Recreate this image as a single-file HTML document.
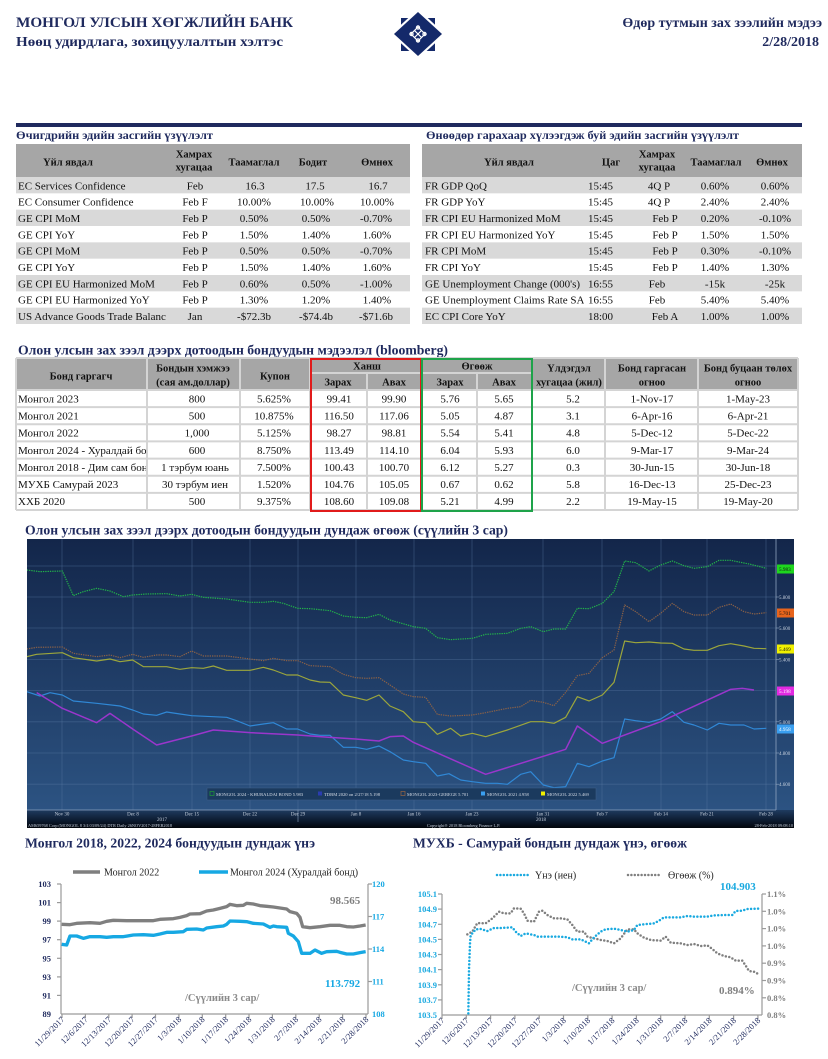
<!DOCTYPE html>
<html><head><meta charset="utf-8"><style>
html,body{margin:0;padding:0;background:#fff;width:828px;height:1059px;overflow:hidden}
svg{display:block}
text{font-family:"Liberation Serif","DejaVu Serif",serif}
.nv{fill:#1f2a5e;font-weight:bold}
.td{font-size:11px;fill:#111}
.th{font-size:10.5px;font-weight:bold;fill:#111}
.bb{font-family:"Liberation Sans","DejaVu Sans",sans-serif}
</style></head><body>
<svg width="828" height="1059" viewBox="0 0 828 1059" xmlns="http://www.w3.org/2000/svg">
<defs>
<linearGradient id="bg" x1="0" y1="0" x2="0" y2="1"><stop offset="0" stop-color="#13264a"/><stop offset="1" stop-color="#2c5382"/></linearGradient>
<linearGradient id="ax" x1="0" y1="0" x2="0" y2="1"><stop offset="0" stop-color="#1f3b60"/><stop offset="0.6" stop-color="#0c1a2e"/><stop offset="1" stop-color="#02050b"/></linearGradient>
<clipPath id="c1"><rect x="16" y="170" width="150" height="160"/></clipPath>
<clipPath id="c2"><rect x="422" y="170" width="162" height="160"/></clipPath>
<clipPath id="c3"><rect x="16" y="390" width="130" height="125"/></clipPath>
<clipPath id="cp"><rect x="27" y="539" width="749" height="271"/></clipPath>
</defs>

<!-- HEADER -->
<text x="16" y="27" class="nv" font-size="15" textLength="277" lengthAdjust="spacingAndGlyphs">МОНГОЛ УЛСЫН ХӨГЖЛИЙН БАНК</text>
<text x="16" y="46" class="nv" font-size="14" textLength="267" lengthAdjust="spacingAndGlyphs">Нөөц удирдлага, зохицуулалтын хэлтэс</text>
<text x="822" y="27" class="nv" font-size="14" text-anchor="end">Өдөр тутмын зах зээлийн мэдээ</text>
<text x="819" y="46" class="nv" font-size="14" text-anchor="end">2/28/2018</text>
<!-- logo -->
<rect x="401" y="18" width="34" height="33" fill="#14296a"/>
<polygon points="418,9 445,34 418,59 391,34" fill="#fff"/>
<polygon points="418,12 442,34 418,56 394,34" fill="#14296a"/>
<g fill="none" stroke="#fff" stroke-width="1.2">
<polygon points="418,27 425,34 418,41 411,34"/>
<line x1="414.5" y1="30.5" x2="421.5" y2="37.5"/><line x1="421.5" y1="30.5" x2="414.5" y2="37.5"/>
<circle cx="418" cy="27.5" r="1.6"/><circle cx="418" cy="40.5" r="1.6"/><circle cx="411.5" cy="34" r="1.6"/><circle cx="424.5" cy="34" r="1.6"/>
</g>

<!-- TOP TABLES -->
<rect x="16" y="123" width="786" height="4" fill="#1f2a5e"/>
<text x="16" y="139" class="nv" font-size="12" textLength="197" lengthAdjust="spacingAndGlyphs">Өчигдрийн эдийн засгийн үзүүлэлт</text>
<text x="426" y="139" class="nv" font-size="12" textLength="313" lengthAdjust="spacingAndGlyphs">Өнөөдөр гарахаар хүлээгдэж буй эдийн засгийн үзүүлэлт</text>
<rect x="16" y="144" width="394" height="33" fill="#a6a6a6"/>
<rect x="422" y="144" width="380" height="33" fill="#a6a6a6"/>
<g fill="#d9d9d9">
<rect x="16" y="177" width="394" height="16.33"/><rect x="16" y="209.67" width="394" height="16.33"/><rect x="16" y="242.33" width="394" height="16.33"/><rect x="16" y="275" width="394" height="16.33"/><rect x="16" y="307.67" width="394" height="16.33"/>
<rect x="422" y="177" width="380" height="16.33"/><rect x="422" y="209.67" width="380" height="16.33"/><rect x="422" y="242.33" width="380" height="16.33"/><rect x="422" y="275" width="380" height="16.33"/><rect x="422" y="307.67" width="380" height="16.33"/>
</g>
<g class="th" text-anchor="middle">
<text x="68" y="165.5">Үйл явдал</text>
<text x="194" y="157.5">Хамрах</text><text x="194" y="170.5">хугацаа</text>
<text x="254" y="165.5">Таамаглал</text>
<text x="313" y="165.5">Бодит</text>
<text x="377" y="165.5">Өмнөх</text>
<text x="509" y="165.5">Үйл явдал</text>
<text x="611" y="165.5">Цаг</text>
<text x="657" y="157.5">Хамрах</text><text x="657" y="170.5">хугацаа</text>
<text x="716" y="165.5">Таамаглал</text>
<text x="772" y="165.5">Өмнөх</text>
</g>
<g class="td" clip-path="url(#c1)">
<text x="18" y="189.3">EC  Services Confidence</text>
<text x="18" y="205.6">EC  Consumer Confidence</text>
<text x="18" y="222">GE  CPI MoM</text>
<text x="18" y="238.3">GE  CPI YoY</text>
<text x="18" y="254.6">GE  CPI MoM</text>
<text x="18" y="271">GE  CPI YoY</text>
<text x="18" y="287.3">GE  CPI EU Harmonized MoM</text>
<text x="18" y="303.6">GE  CPI EU Harmonized YoY</text>
<text x="18" y="320">US  Advance Goods Trade Balance</text>
</g>
<g class="td" text-anchor="middle">
<text x="195" y="189.3">Feb</text><text x="255" y="189.3">16.3</text><text x="315" y="189.3">17.5</text><text x="378" y="189.3">16.7</text>
<text x="195" y="205.6">Feb F</text><text x="254" y="205.6">10.00%</text><text x="317" y="205.6">10.00%</text><text x="377" y="205.6">10.00%</text>
<text x="195" y="222">Feb P</text><text x="254" y="222">0.50%</text><text x="316" y="222">0.50%</text><text x="376" y="222">-0.70%</text>
<text x="195" y="238.3">Feb P</text><text x="254" y="238.3">1.50%</text><text x="316" y="238.3">1.40%</text><text x="377" y="238.3">1.60%</text>
<text x="195" y="254.6">Feb P</text><text x="254" y="254.6">0.50%</text><text x="316" y="254.6">0.50%</text><text x="376" y="254.6">-0.70%</text>
<text x="195" y="271">Feb P</text><text x="254" y="271">1.50%</text><text x="316" y="271">1.40%</text><text x="377" y="271">1.60%</text>
<text x="195" y="287.3">Feb P</text><text x="254" y="287.3">0.60%</text><text x="316" y="287.3">0.50%</text><text x="376" y="287.3">-1.00%</text>
<text x="195" y="303.6">Feb P</text><text x="254" y="303.6">1.30%</text><text x="316" y="303.6">1.20%</text><text x="377" y="303.6">1.40%</text>
<text x="195" y="320">Jan</text><text x="254" y="320">-$72.3b</text><text x="316" y="320">-$74.4b</text><text x="376" y="320">-$71.6b</text>
</g>
<g class="td" clip-path="url(#c2)">
<text x="425" y="189.3">FR GDP QoQ</text>
<text x="425" y="205.6">FR GDP YoY</text>
<text x="425" y="222">FR CPI EU Harmonized MoM</text>
<text x="425" y="238.3">FR CPI EU Harmonized YoY</text>
<text x="425" y="254.6">FR CPI MoM</text>
<text x="425" y="271">FR CPI YoY</text>
<text x="425" y="287.3">GE Unemployment Change (000's)</text>
<text x="425" y="303.6">GE Unemployment Claims Rate SA</text>
<text x="425" y="320">EC CPI Core YoY</text>
</g>
<g class="td">
<text x="588" y="189.3">15:45</text><text x="588" y="205.6">15:45</text><text x="588" y="222">15:45</text><text x="588" y="238.3">15:45</text><text x="588" y="254.6">15:45</text><text x="588" y="271">15:45</text><text x="588" y="287.3">16:55</text><text x="588" y="303.6">16:55</text><text x="588" y="320">18:00</text>
</g>
<g class="td" text-anchor="middle">
<text x="659" y="189.3">4Q P</text><text x="715" y="189.3">0.60%</text><text x="775" y="189.3">0.60%</text>
<text x="659" y="205.6">4Q P</text><text x="715" y="205.6">2.40%</text><text x="775" y="205.6">2.40%</text>
<text x="665" y="222">Feb P</text><text x="715" y="222">0.20%</text><text x="775" y="222">-0.10%</text>
<text x="665" y="238.3">Feb P</text><text x="715" y="238.3">1.50%</text><text x="775" y="238.3">1.50%</text>
<text x="665" y="254.6">Feb P</text><text x="715" y="254.6">0.30%</text><text x="775" y="254.6">-0.10%</text>
<text x="665" y="271">Feb P</text><text x="715" y="271">1.40%</text><text x="775" y="271">1.30%</text>
<text x="657" y="287.3">Feb</text><text x="715" y="287.3">-15k</text><text x="775" y="287.3">-25k</text>
<text x="657" y="303.6">Feb</text><text x="715" y="303.6">5.40%</text><text x="775" y="303.6">5.40%</text>
<text x="665" y="320">Feb A</text><text x="715" y="320">1.00%</text><text x="775" y="320">1.00%</text>
</g>

<!-- BOND TABLE -->
<text x="18" y="354.5" class="nv" font-size="13.5" textLength="430" lengthAdjust="spacingAndGlyphs">Олон улсын зах зээл дээрх дотоодын бондуудын мэдээлэл (bloomberg)</text>
<rect x="16" y="358" width="782" height="32" fill="#a6a6a6"/>
<g stroke="#d4d4d4" stroke-width="2">
<line x1="16" y1="358" x2="798" y2="358"/>
<line x1="16" y1="390" x2="798" y2="390"/><line x1="16" y1="407.1" x2="798" y2="407.1"/><line x1="16" y1="424.3" x2="798" y2="424.3"/><line x1="16" y1="441.4" x2="798" y2="441.4"/><line x1="16" y1="458.6" x2="798" y2="458.6"/><line x1="16" y1="475.7" x2="798" y2="475.7"/><line x1="16" y1="492.9" x2="798" y2="492.9"/><line x1="16" y1="510" x2="798" y2="510"/>
<line x1="310" y1="373" x2="532" y2="373"/>
<line x1="16" y1="358" x2="16" y2="510"/><line x1="147" y1="358" x2="147" y2="510"/><line x1="240" y1="358" x2="240" y2="510"/><line x1="310" y1="358" x2="310" y2="510"/><line x1="367" y1="373" x2="367" y2="510"/><line x1="421" y1="358" x2="421" y2="510"/><line x1="477" y1="373" x2="477" y2="510"/><line x1="532" y1="358" x2="532" y2="510"/><line x1="605" y1="358" x2="605" y2="510"/><line x1="698" y1="358" x2="698" y2="510"/><line x1="798" y1="358" x2="798" y2="510"/>
</g>
<g class="th" text-anchor="middle">
<text x="81" y="379.5">Бонд гаргагч</text>
<text x="193" y="371.5">Бондын хэмжээ</text><text x="193" y="385.5">(сая ам.доллар)</text>
<text x="275" y="379.5">Купон</text>
<text x="367" y="369.5">Ханш</text>
<text x="477" y="369.5">Өгөөж</text>
<text x="338" y="385.5">Зарах</text><text x="394" y="385.5">Авах</text>
<text x="450" y="385.5">Зарах</text><text x="504" y="385.5">Авах</text>
<text x="569" y="371.5">Үлдэгдэл</text><text x="569" y="385.5">хугацаа (жил)</text>
<text x="652" y="371.5">Бонд гаргасан</text><text x="652" y="385.5">огноо</text>
<text x="748" y="371.5">Бонд буцаан төлөх</text><text x="748" y="385.5">огноо</text>
</g>
<g class="td" clip-path="url(#c3)">
<text x="18" y="402.3">Монгол 2023</text>
<text x="18" y="419.5">Монгол 2021</text>
<text x="18" y="436.6">Монгол 2022</text>
<text x="18" y="453.8">Монгол 2024 - Хуралдай бонд</text>
<text x="18" y="470.9">Монгол 2018 - Дим сам бонд</text>
<text x="18" y="488.1">МУХБ Самурай 2023</text>
<text x="18" y="505.2">ХХБ 2020</text>
</g>
<g class="td" text-anchor="middle">
<text x="197" y="402.3">800</text><text x="274" y="402.3">5.625%</text><text x="339" y="402.3">99.41</text><text x="394" y="402.3">99.90</text><text x="450" y="402.3">5.76</text><text x="504" y="402.3">5.65</text><text x="573" y="402.3">5.2</text><text x="652" y="402.3">1-Nov-17</text><text x="748" y="402.3">1-May-23</text>
<text x="197" y="419.5">500</text><text x="274" y="419.5">10.875%</text><text x="339" y="419.5">116.50</text><text x="394" y="419.5">117.06</text><text x="450" y="419.5">5.05</text><text x="504" y="419.5">4.87</text><text x="573" y="419.5">3.1</text><text x="652" y="419.5">6-Apr-16</text><text x="748" y="419.5">6-Apr-21</text>
<text x="197" y="436.6">1,000</text><text x="274" y="436.6">5.125%</text><text x="339" y="436.6">98.27</text><text x="394" y="436.6">98.81</text><text x="450" y="436.6">5.54</text><text x="504" y="436.6">5.41</text><text x="573" y="436.6">4.8</text><text x="652" y="436.6">5-Dec-12</text><text x="748" y="436.6">5-Dec-22</text>
<text x="197" y="453.8">600</text><text x="274" y="453.8">8.750%</text><text x="339" y="453.8">113.49</text><text x="394" y="453.8">114.10</text><text x="450" y="453.8">6.04</text><text x="504" y="453.8">5.93</text><text x="573" y="453.8">6.0</text><text x="652" y="453.8">9-Mar-17</text><text x="748" y="453.8">9-Mar-24</text>
<text x="195" y="470.9">1 тэрбум юань</text><text x="274" y="470.9">7.500%</text><text x="339" y="470.9">100.43</text><text x="394" y="470.9">100.70</text><text x="450" y="470.9">6.12</text><text x="504" y="470.9">5.27</text><text x="573" y="470.9">0.3</text><text x="652" y="470.9">30-Jun-15</text><text x="748" y="470.9">30-Jun-18</text>
<text x="195" y="488.1">30 тэрбум иен</text><text x="274" y="488.1">1.520%</text><text x="339" y="488.1">104.76</text><text x="394" y="488.1">105.05</text><text x="450" y="488.1">0.67</text><text x="504" y="488.1">0.62</text><text x="573" y="488.1">5.8</text><text x="652" y="488.1">16-Dec-13</text><text x="748" y="488.1">25-Dec-23</text>
<text x="197" y="505.2">500</text><text x="274" y="505.2">9.375%</text><text x="339" y="505.2">108.60</text><text x="394" y="505.2">109.08</text><text x="450" y="505.2">5.21</text><text x="504" y="505.2">4.99</text><text x="573" y="505.2">2.2</text><text x="652" y="505.2">19-May-15</text><text x="748" y="505.2">19-May-20</text>
</g>
<rect x="311" y="359" width="110" height="152" fill="none" stroke="#e11b1b" stroke-width="2"/>
<rect x="422" y="359" width="110" height="152" fill="none" stroke="#1ea34a" stroke-width="2"/>

<!-- BLOOMBERG CHART -->
<text x="25" y="534.5" class="nv" font-size="13.5" textLength="483" lengthAdjust="spacingAndGlyphs">Олон улсын зах зээл дээрх дотоодын бондуудын дундаж өгөөж (сүүлийн 3 сар)</text>
<rect x="27" y="539" width="767" height="271" fill="url(#bg)"/>
<rect x="27" y="810" width="767" height="18" fill="url(#ax)"/>
<g stroke="#5a7aa3" stroke-opacity="0.45" stroke-width="0.8">
<line x1="27" y1="566" x2="776" y2="566"/><line x1="27" y1="597" x2="776" y2="597"/><line x1="27" y1="628" x2="776" y2="628"/><line x1="27" y1="659.4" x2="776" y2="659.4"/><line x1="27" y1="690.6" x2="776" y2="690.6"/><line x1="27" y1="721.8" x2="776" y2="721.8"/><line x1="27" y1="753" x2="776" y2="753"/><line x1="27" y1="784.2" x2="776" y2="784.2"/>
<line x1="62" y1="539" x2="62" y2="810"/><line x1="133" y1="539" x2="133" y2="810"/><line x1="192" y1="539" x2="192" y2="810"/><line x1="250" y1="539" x2="250" y2="810"/><line x1="298" y1="539" x2="298" y2="810"/><line x1="356" y1="539" x2="356" y2="810"/><line x1="414" y1="539" x2="414" y2="810"/><line x1="472" y1="539" x2="472" y2="810"/><line x1="543" y1="539" x2="543" y2="810"/><line x1="602" y1="539" x2="602" y2="810"/><line x1="661" y1="539" x2="661" y2="810"/><line x1="707" y1="539" x2="707" y2="810"/><line x1="766" y1="539" x2="766" y2="810"/>
</g>
<line x1="776" y1="539" x2="776" y2="810" stroke="#8ea3bf" stroke-width="0.8"/>
<line x1="27" y1="810" x2="776" y2="810" stroke="#8ea3bf" stroke-width="0.8"/>
<line x1="298" y1="810" x2="298" y2="822" stroke="#8ea3bf" stroke-width="0.6"/>
<g clip-path="url(#cp)">
<g transform="translate(0,515) scale(0.333333)" fill="none" stroke-linejoin="round">
<polyline stroke="#22b34a" stroke-width="3.6" stroke-dasharray="4 3" points="80,165 120,170 187,168 220,242 250,230 290,220 330,228 370,245 398,240 440,237 500,236 540,243 575,238 610,247 680,252 750,262 790,262 820,259 850,265 893,280 930,281 990,287 1030,303 1067,307 1100,308 1137,298 1170,315 1240,335 1277,340 1312,368 1352,374 1417,370 1457,358 1522,355 1562,340 1592,335 1630,350 1662,342 1697,342 1732,280 1767,281 1807,265 1842,230 1874,138 1907,143 1947,168 1982,150 2017,138 2052,152 2082,160 2122,155 2157,136 2192,136 2252,148 2299,160"/>
<polyline stroke="#8a6147" stroke-width="3.6" stroke-dasharray="4 3" points="80,402 110,397 187,396 220,415 290,425 330,420 360,428 398,418 430,427 470,420 500,420 540,425 575,408 610,423 680,423 750,432 790,437 820,430 860,437 893,437 930,452 990,455 1030,478 1067,488 1100,490 1137,488 1170,510 1210,537 1240,545 1277,547 1312,598 1352,603 1417,600 1457,593 1522,580 1562,575 1592,556 1630,562 1662,572 1697,532 1732,482 1767,475 1807,428 1842,405 1874,270 1907,290 1947,320 1982,295 2017,265 2052,290 2082,300 2122,300 2157,277 2192,267 2232,290 2262,297 2299,293"/>
<polyline stroke="#9ca63c" stroke-width="3.6" points="80,425 110,418 187,413 220,428 290,438 330,432 360,440 398,435 430,455 500,455 540,463 575,458 610,460 640,453 680,466 750,466 790,457 820,465 860,480 893,480 930,495 960,501 990,502 1030,540 1067,548 1100,556 1137,540 1170,573 1210,590 1240,620 1277,623 1312,658 1352,640 1382,663 1417,655 1457,665 1522,645 1592,620 1630,620 1662,625 1697,607 1732,545 1767,558 1807,540 1842,502 1874,378 1907,383 1947,381 1982,384 2017,385 2052,402 2082,406 2122,406 2157,392 2192,386 2232,393 2262,400 2299,401"/>
<polyline stroke="#3088d6" stroke-width="3.6" points="80,530 120,543 150,533 187,540 220,558 290,565 360,573 398,585 430,597 470,601 500,591 540,597 575,602 640,605 680,607 710,617 750,633 790,627 820,623 860,642 893,642 930,657 960,661 990,661 1030,697 1067,697 1100,703 1137,693 1170,710 1210,735 1240,740 1277,745 1312,783 1347,776 1382,795 1417,800 1457,805 1492,805 1522,808 1562,778 1592,770 1630,810 1662,818 1697,815 1732,745 1767,755 1807,738 1842,728 1874,612 1907,617 1947,622 1982,612 2017,590 2052,622 2082,630 2122,645 2157,625 2192,630 2232,630 2262,642 2299,640"/>
<polyline stroke="#9a36cc" stroke-width="4.5" points="110,533 187,580 290,623 330,595 398,642 470,690 575,663 640,645 750,653 893,660 990,667 1067,672 1137,678 1170,665 1210,663 1240,682 1457,778 1697,703 1732,633 1807,685 1982,620 2192,523 2227,520 2262,525"/>
</g>
</g>
<!-- right axis -->
<g class="bb" font-size="5" fill="#c5cfdd">
<text x="779" y="599">5.800</text><text x="779" y="630">5.600</text><text x="779" y="661.4">5.400</text><text x="779" y="723.8">5.000</text><text x="779" y="755">4.800</text><text x="779" y="786.2">4.600</text>
</g>
<g stroke="#8ea3bf" stroke-width="0.6">
<line x1="776" y1="597" x2="779" y2="597"/><line x1="776" y1="628" x2="779" y2="628"/><line x1="776" y1="659.4" x2="779" y2="659.4"/><line x1="776" y1="721.8" x2="779" y2="721.8"/><line x1="776" y1="753" x2="779" y2="753"/><line x1="776" y1="784.2" x2="779" y2="784.2"/>
</g>
<rect x="777" y="564.5" width="17" height="9" fill="#1ed61e"/>
<rect x="777" y="608.5" width="17" height="9" fill="#e8641c"/>
<rect x="777" y="644.5" width="17" height="9" fill="#f0f000"/>
<rect x="777" y="686.5" width="17" height="9" fill="#e22ae2"/>
<rect x="777" y="724.5" width="17" height="9" fill="#3a9ff0"/>
<g class="bb" font-size="5.2" fill="#111">
<text x="779" y="571">5.983</text><text x="779" y="615">5.701</text><text x="779" y="651">5.469</text><text x="779" y="693" fill="#fff">5.198</text><text x="779" y="731" fill="#fff">4.958</text>
</g>
<!-- legend -->
<rect x="207" y="788" width="389" height="12" fill="#1b3a5e" stroke="#3c5d85" stroke-width="0.6"/>
<g class="bb" font-size="4.6" fill="#d8dee8">
<rect x="210" y="791.5" width="4" height="4" fill="none" stroke="#1f8f3a" stroke-width="0.8"/><text x="216" y="796">MONGOL 2024 - KHURALDAI BOND 5.983</text>
<rect x="318" y="791.5" width="4" height="4" fill="#2a3cb0"/><text x="324" y="796">TDBM 2020 on 2/27/18 5.198</text>
<rect x="401" y="791.5" width="4" height="4" fill="none" stroke="#8a6147" stroke-width="0.8"/><text x="407" y="796">MONGOL 2023-GEREGE 5.701</text>
<rect x="481" y="791.5" width="4" height="4" fill="#3a9ff0"/><text x="487" y="796">MONGOL 2021 4.958</text>
<rect x="541" y="791.5" width="4" height="4" fill="#f0f000"/><text x="547" y="796">MONGOL 2022 5.469</text>
</g>
<!-- x axis labels -->
<g class="bb" font-size="5" fill="#c5cfdd" text-anchor="middle">
<text x="62" y="815.5">Nov 30</text><text x="133" y="815.5">Dec 8</text><text x="192" y="815.5">Dec 15</text><text x="250" y="815.5">Dec 22</text><text x="298" y="815.5">Dec 29</text><text x="356" y="815.5">Jan 8</text><text x="414" y="815.5">Jan 16</text><text x="472" y="815.5">Jan 23</text><text x="543" y="815.5">Jan 31</text><text x="602" y="815.5">Feb 7</text><text x="661" y="815.5">Feb 14</text><text x="707" y="815.5">Feb 21</text><text x="766" y="815.5">Feb 28</text>
<text x="162" y="821">2017</text><text x="541" y="821">2018</text>
</g>
<g class="bb" font-size="4.3" fill="#c5cfdd">
<text x="28" y="827">AM659768 Corp (MONGOL 8 3/4 03/09/24) DTR  Daily 26NOV2017-28FEB2018</text>
<text x="427" y="827">Copyright® 2018 Bloomberg Finance L.P.</text>
<text x="793" y="827" text-anchor="end">28-Feb-2018 09:08:10</text>
</g>

<!-- BOTTOM LEFT CHART -->
<text x="25" y="847.5" class="nv" font-size="13.5" textLength="290" lengthAdjust="spacingAndGlyphs">Монгол 2018, 2022, 2024 бондуудын дундаж үнэ</text>
<line x1="73" y1="872" x2="100" y2="872" stroke="#7f7f7f" stroke-width="3.5"/>
<text x="104" y="875.5" font-size="10" fill="#222">Монгол 2022</text>
<line x1="199" y1="872" x2="228" y2="872" stroke="#16a8e3" stroke-width="3.5"/>
<text x="230" y="875.5" font-size="10" fill="#222">Монгол 2024 (Хуралдай бонд)</text>
<g stroke="#9a9a9a" stroke-width="1.2">
<line x1="61" y1="884" x2="61" y2="1014"/><line x1="368" y1="884" x2="368" y2="1014"/><line x1="61" y1="1014" x2="368" y2="1014"/>
<line x1="57" y1="884" x2="61" y2="884"/><line x1="57" y1="902.6" x2="61" y2="902.6"/><line x1="57" y1="921.1" x2="61" y2="921.1"/><line x1="57" y1="939.7" x2="61" y2="939.7"/><line x1="57" y1="958.3" x2="61" y2="958.3"/><line x1="57" y1="976.9" x2="61" y2="976.9"/><line x1="57" y1="995.4" x2="61" y2="995.4"/>
<line x1="368" y1="884" x2="372" y2="884"/><line x1="368" y1="916.5" x2="372" y2="916.5"/><line x1="368" y1="949" x2="372" y2="949"/><line x1="368" y1="981.5" x2="372" y2="981.5"/>
<line x1="62" y1="1014" x2="62" y2="1018"/><line x1="85.4" y1="1014" x2="85.4" y2="1018"/><line x1="108.8" y1="1014" x2="108.8" y2="1018"/><line x1="132.1" y1="1014" x2="132.1" y2="1018"/><line x1="155.5" y1="1014" x2="155.5" y2="1018"/><line x1="178.9" y1="1014" x2="178.9" y2="1018"/><line x1="202.3" y1="1014" x2="202.3" y2="1018"/><line x1="225.7" y1="1014" x2="225.7" y2="1018"/><line x1="249" y1="1014" x2="249" y2="1018"/><line x1="272.4" y1="1014" x2="272.4" y2="1018"/><line x1="295.8" y1="1014" x2="295.8" y2="1018"/><line x1="319.2" y1="1014" x2="319.2" y2="1018"/><line x1="342.6" y1="1014" x2="342.6" y2="1018"/><line x1="366" y1="1014" x2="366" y2="1018"/>
</g>
<g font-size="8.5" font-weight="bold" fill="#1f2a5e" text-anchor="end">
<text x="51" y="887">103</text><text x="51" y="905.6">101</text><text x="51" y="924.1">99</text><text x="51" y="942.7">97</text><text x="51" y="961.3">95</text><text x="51" y="979.9">93</text><text x="51" y="998.4">91</text><text x="51" y="1017">89</text>
</g>
<g font-size="8.5" font-weight="bold" fill="#16a8e3">
<text x="372" y="887">120</text><text x="372" y="919.5">117</text><text x="372" y="952">114</text><text x="372" y="984.5">111</text><text x="372" y="1017">108</text>
</g>
<g transform="translate(0,830) scale(0.333333)" fill="none" stroke-linejoin="round">
<polyline stroke="#7f7f7f" stroke-width="10" points="185,283 210,284 230,280 270,278 300,280 320,274 340,271 380,272 430,272 460,272 480,268 520,266 540,262 560,257 570,252 600,251 620,243 640,240 660,235 680,230 690,223 710,227 730,226 740,220 760,222 780,227 800,229 820,231 840,234 860,237 870,245 890,250 900,262 908,290 930,293 960,290 990,286 1020,286 1040,290 1060,291 1080,288 1097,285"/>
<polyline stroke="#16a8e3" stroke-width="10" points="185,343 200,345 210,318 230,318 250,325 270,320 300,320 320,322 340,320 370,320 400,315 430,314 460,316 480,312 500,307 520,307 550,305 560,298 590,297 610,300 620,294 650,290 670,288 680,283 690,273 720,274 740,275 760,280 790,282 810,292 820,288 830,290 860,292 865,310 880,318 895,335 905,370 930,370 945,360 965,370 980,365 1010,364 1020,367 1040,372 1060,372 1080,368 1097,365"/>
</g>
<text x="330" y="904" font-size="11" font-weight="bold" fill="#7f7f7f">98.565</text>
<text x="325" y="987" font-size="11" font-weight="bold" fill="#16a8e3">113.792</text>
<text x="185" y="1001" font-size="10.5" font-weight="bold" fill="#8a8a8a">/Сүүлийн 3 сар/</text>
<g font-size="8.5" fill="#1f2a5e" text-anchor="end">
<text transform="translate(65,1020) rotate(-45)">11/29/2017</text>
<text transform="translate(88.4,1020) rotate(-45)">12/6/2017</text>
<text transform="translate(111.8,1020) rotate(-45)">12/13/2017</text>
<text transform="translate(135.1,1020) rotate(-45)">12/20/2017</text>
<text transform="translate(158.5,1020) rotate(-45)">12/27/2017</text>
<text transform="translate(181.9,1020) rotate(-45)">1/3/2018</text>
<text transform="translate(205.3,1020) rotate(-45)">1/10/2018</text>
<text transform="translate(228.7,1020) rotate(-45)">1/17/2018</text>
<text transform="translate(252,1020) rotate(-45)">1/24/2018</text>
<text transform="translate(275.4,1020) rotate(-45)">1/31/2018</text>
<text transform="translate(298.8,1020) rotate(-45)">2/7/2018</text>
<text transform="translate(322.2,1020) rotate(-45)">2/14/2018</text>
<text transform="translate(345.6,1020) rotate(-45)">2/21/2018</text>
<text transform="translate(369,1020) rotate(-45)">2/28/2018</text>
</g>

<!-- BOTTOM RIGHT CHART -->
<text x="413" y="847.5" class="nv" font-size="13.5" textLength="274" lengthAdjust="spacingAndGlyphs">МУХБ - Самурай бондын дундаж үнэ, өгөөж</text>
<line x1="497" y1="875" x2="529" y2="875" stroke="#19a9e0" stroke-width="2.5" stroke-dasharray="0 3.4" stroke-linecap="round"/>
<text x="535" y="878.5" font-size="10" fill="#222">Үнэ (иен)</text>
<line x1="628" y1="875" x2="662" y2="875" stroke="#7f7f7f" stroke-width="2.5" stroke-dasharray="0 3.4" stroke-linecap="round"/>
<text x="668" y="878.5" font-size="10" fill="#222">Өгөөж (%)</text>
<g stroke="#9a9a9a" stroke-width="1.2">
<line x1="442" y1="894" x2="442" y2="1015"/><line x1="762" y1="894" x2="762" y2="1015"/><line x1="442" y1="1015" x2="762" y2="1015"/>
<line x1="438" y1="894" x2="442" y2="894"/><line x1="438" y1="909.1" x2="442" y2="909.1"/><line x1="438" y1="924.3" x2="442" y2="924.3"/><line x1="438" y1="939.4" x2="442" y2="939.4"/><line x1="438" y1="954.5" x2="442" y2="954.5"/><line x1="438" y1="969.6" x2="442" y2="969.6"/><line x1="438" y1="984.8" x2="442" y2="984.8"/><line x1="438" y1="999.9" x2="442" y2="999.9"/>
<line x1="762" y1="894" x2="766" y2="894"/><line x1="762" y1="911.3" x2="766" y2="911.3"/><line x1="762" y1="928.6" x2="766" y2="928.6"/><line x1="762" y1="945.9" x2="766" y2="945.9"/><line x1="762" y1="963.2" x2="766" y2="963.2"/><line x1="762" y1="980.5" x2="766" y2="980.5"/><line x1="762" y1="997.8" x2="766" y2="997.8"/>
<line x1="442" y1="1015" x2="442" y2="1019"/><line x1="466.3" y1="1015" x2="466.3" y2="1019"/><line x1="490.6" y1="1015" x2="490.6" y2="1019"/><line x1="514.9" y1="1015" x2="514.9" y2="1019"/><line x1="539.2" y1="1015" x2="539.2" y2="1019"/><line x1="563.5" y1="1015" x2="563.5" y2="1019"/><line x1="587.8" y1="1015" x2="587.8" y2="1019"/><line x1="612.1" y1="1015" x2="612.1" y2="1019"/><line x1="636.4" y1="1015" x2="636.4" y2="1019"/><line x1="660.7" y1="1015" x2="660.7" y2="1019"/><line x1="685" y1="1015" x2="685" y2="1019"/><line x1="709.3" y1="1015" x2="709.3" y2="1019"/><line x1="733.6" y1="1015" x2="733.6" y2="1019"/><line x1="757.9" y1="1015" x2="757.9" y2="1019"/>
</g>
<g font-size="8.5" font-weight="bold" fill="#19a9e0" text-anchor="end">
<text x="437" y="897">105.1</text><text x="437" y="912.1">104.9</text><text x="437" y="927.3">104.7</text><text x="437" y="942.4">104.5</text><text x="437" y="957.5">104.3</text><text x="437" y="972.6">104.1</text><text x="437" y="987.8">103.9</text><text x="437" y="1002.9">103.7</text><text x="437" y="1018">103.5</text>
</g>
<g font-size="8.5" font-weight="bold" fill="#7f7f7f">
<text x="767" y="897">1.1%</text><text x="767" y="914.3">1.0%</text><text x="767" y="931.6">1.0%</text><text x="767" y="948.9">1.0%</text><text x="767" y="966.2">0.9%</text><text x="767" y="983.5">0.9%</text><text x="767" y="1000.8">0.8%</text><text x="767" y="1018">0.8%</text>
</g>
<g transform="translate(414,830) scale(0.333333)" fill="none" stroke-linecap="round" stroke-linejoin="round">
<polyline stroke="#7f7f7f" stroke-width="7.5" stroke-dasharray="0 10.5" points="160,313 175,305 190,279 215,280 235,265 255,245 270,250 290,250 300,235 320,236 330,250 340,272 360,275 375,245 385,242 400,255 420,265 440,265 460,268 475,285 490,305 510,305 520,320 540,325 560,330 580,333 600,340 620,325 640,298 660,298 670,310 690,323 710,330 740,332 755,320 770,338 800,340 820,345 840,342 860,348 880,346 895,357 910,370 930,378 950,382 965,392 985,392 995,407 1005,423 1020,425 1033,432"/>
<polyline stroke="#19a9e0" stroke-width="7.5" stroke-dasharray="0 10.5" points="163,550 165,420 168,340 170,315 175,310 185,298 200,297 220,303 240,294 260,294 295,292 305,305 320,318 335,310 360,315 370,320 400,320 440,320 460,322 475,328 500,328 525,340 540,322 560,305 575,298 600,296 620,300 640,305 660,300 670,285 700,282 720,280 735,272 750,262 780,262 800,262 820,258 840,260 880,260 900,256 940,255 955,255 965,243 985,242 1000,237 1033,236"/>
</g>
<text x="720" y="890" font-size="11" font-weight="bold" fill="#19a9e0">104.903</text>
<text x="719" y="994" font-size="11" font-weight="bold" fill="#7f7f7f">0.894%</text>
<text x="572" y="991" font-size="10.5" font-weight="bold" fill="#8a8a8a">/Сүүлийн 3 сар/</text>
<g font-size="8.5" fill="#1f2a5e" text-anchor="end">
<text transform="translate(445,1021) rotate(-45)">11/29/2017</text>
<text transform="translate(469.3,1021) rotate(-45)">12/6/2017</text>
<text transform="translate(493.6,1021) rotate(-45)">12/13/2017</text>
<text transform="translate(517.9,1021) rotate(-45)">12/20/2017</text>
<text transform="translate(542.2,1021) rotate(-45)">12/27/2017</text>
<text transform="translate(566.5,1021) rotate(-45)">1/3/2018</text>
<text transform="translate(590.8,1021) rotate(-45)">1/10/2018</text>
<text transform="translate(615.1,1021) rotate(-45)">1/17/2018</text>
<text transform="translate(639.4,1021) rotate(-45)">1/24/2018</text>
<text transform="translate(663.7,1021) rotate(-45)">1/31/2018</text>
<text transform="translate(688,1021) rotate(-45)">2/7/2018</text>
<text transform="translate(712.3,1021) rotate(-45)">2/14/2018</text>
<text transform="translate(736.6,1021) rotate(-45)">2/21/2018</text>
<text transform="translate(760.9,1021) rotate(-45)">2/28/2018</text>
</g>
</svg>
</body></html>
